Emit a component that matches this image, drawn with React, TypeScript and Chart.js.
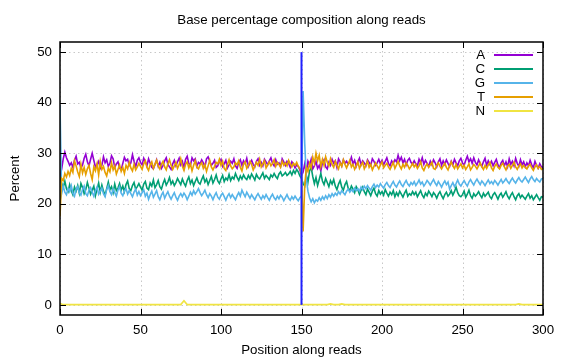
import React, { useEffect, useRef } from "react";
import { Chart, registerables } from "chart.js";

Chart.register(...registerables);

const TITLE = "Base percentage composition along reads";
const X_TITLE = "Position along reads";
const Y_TITLE = "Percent";
const X_TICKS = [0, 50, 100, 150, 200, 250, 300];
const Y_TICKS = [0, 10, 20, 30, 40, 50];
const SERIES_NAMES = ["A", "C", "G", "T", "N"];
const SERIES_COLORS = ["#9400d3", "#009e73", "#56b4e9", "#e69f00", "#f0e442"];

// values per read position 0..300
const baseA = [
  25.5, 26.8, 28.9, 30.2, 29.1, 28.4, 27.6, 28.1, 27.2, 28.6,
  29.4, 27.9, 28.2, 27.1, 27.7, 29.0, 29.8, 28.3, 27.5, 28.8,
  30.0, 28.6, 27.3, 27.8, 28.4, 27.0, 27.6, 29.3, 28.1, 28.7,
  27.4, 28.0, 29.5, 28.9, 27.2, 27.9, 28.3, 27.1, 26.7, 28.0,
  29.2, 28.5, 28.8, 27.6, 28.1, 29.7, 28.4, 27.3, 28.6, 29.1,
  28.2, 27.7, 29.0, 28.3, 27.5, 28.9, 28.0, 27.2, 26.9, 27.8,
  28.7, 27.4, 28.2, 27.0, 27.6, 28.5, 29.1, 27.8, 27.3, 26.8,
  27.9, 28.6, 27.5, 28.3, 29.0, 27.7, 28.4, 27.1, 28.8, 29.4,
  28.0, 27.6, 29.1, 28.5, 28.9, 27.4, 28.2, 27.9, 28.7, 28.1,
  27.3, 28.9, 29.3, 28.4, 27.6, 28.0, 28.6, 27.2, 27.5, 28.3,
  28.8, 27.4, 27.9, 28.6, 27.1, 27.7, 28.4, 28.0, 28.9, 27.5,
  27.0, 28.2, 28.7, 27.6, 28.5, 27.9, 29.0, 27.4, 28.1, 28.6,
  27.8, 27.3, 28.4, 28.9, 27.6, 28.2, 27.5, 28.8, 28.3, 27.7,
  28.5, 29.1, 28.0, 27.5, 28.7, 27.8, 28.1, 27.4, 28.9, 28.3,
  27.6, 28.4, 28.0, 27.2, 28.3, 27.9, 27.1, 27.7, 27.4, 26.7,
  25.5, 26.3, 27.9, 26.2, 28.4, 27.6, 28.8, 26.9, 27.5, 28.4,
  27.0, 27.6, 26.5, 28.1, 28.7, 27.3, 26.9, 28.2, 27.6, 28.8,
  28.0, 28.5, 27.2, 28.9, 28.3, 27.5, 28.7, 28.0, 28.4, 27.8,
  28.2, 29.2, 27.9, 28.6, 27.4, 28.3, 29.0, 27.7, 28.5, 28.1,
  27.5, 28.7, 28.2, 27.6, 28.9, 28.4, 27.6, 28.1, 28.8, 27.9,
  28.6, 27.7, 28.4, 29.1, 28.0, 27.5, 28.5, 28.0, 28.7, 28.3,
  29.6, 28.5, 29.2, 28.1, 28.8, 27.7, 28.6, 29.0, 28.2, 27.8,
  28.5, 27.9, 27.5, 28.8, 28.1, 29.1, 27.8, 28.6, 28.0, 27.4,
  28.4, 27.7, 28.7, 28.1, 27.3, 28.3, 28.9, 27.6, 28.5, 27.8,
  28.7, 28.0, 27.4, 28.4, 27.7, 28.8, 28.1, 27.5, 28.5, 29.0,
  28.1, 27.6, 28.6, 29.4, 28.3, 28.9, 28.0, 29.1, 28.2, 27.7,
  28.7, 27.9, 27.4, 28.3, 29.0, 27.6, 28.5, 27.8, 28.4, 27.5,
  28.2, 28.8, 27.7, 27.1, 28.1, 28.6, 27.5, 28.3, 27.3, 28.9,
  27.8, 28.4, 27.5, 29.0, 28.0, 27.4, 28.7, 27.7, 28.3, 27.3,
  28.1, 27.5, 28.6, 27.7, 27.1, 28.4, 27.6, 27.0, 27.9, 27.3,
  27.2,
];

const baseC = [
  25.5, 24.0, 23.2, 24.5, 23.0, 22.4, 23.8, 22.6, 21.8, 23.3,
  22.5, 23.6, 22.1, 24.0, 23.2, 22.0, 22.8, 24.2, 23.1, 21.9,
  22.7, 23.5, 21.6, 22.9, 24.1, 22.3, 23.7, 22.5, 21.7, 23.0,
  24.3, 22.8, 23.4, 22.2, 23.9, 22.6, 23.1, 24.0, 22.7, 23.5,
  22.4, 23.8, 24.5, 23.0, 22.6, 23.6, 24.2, 22.9, 23.4, 24.0,
  23.3, 22.7, 23.9, 24.4, 23.1, 22.8, 24.1, 23.5, 24.7, 23.2,
  23.8, 24.6, 23.4, 22.9, 24.0, 24.8, 23.7, 24.3, 25.2, 23.9,
  24.5, 23.6, 24.2, 25.0, 24.4, 23.8, 24.9, 24.1, 23.5, 24.6,
  25.3, 24.0, 24.7, 23.6, 24.4, 25.1, 24.2, 23.9, 24.8, 25.5,
  24.3, 24.9, 23.8, 24.6, 25.4, 24.1, 24.8, 25.7, 24.5, 24.0,
  24.9, 25.6, 24.4, 25.1, 24.7, 25.8, 24.6, 25.3, 24.9, 26.0,
  25.2, 24.6, 25.5, 24.9, 25.7, 25.1, 24.8, 25.6, 25.0, 25.9,
  25.3, 24.7, 25.8, 25.2, 24.9, 25.5, 26.1, 25.0, 25.6, 25.2,
  24.8, 25.7, 25.3, 26.0, 25.4, 25.0, 25.9, 26.3, 25.5, 25.8,
  26.2, 25.6, 25.9, 26.4, 25.7, 26.6, 26.0, 26.8, 26.3, 25.5,
  25.0, 24.0, 23.5, 25.6, 24.3, 26.5, 27.2, 25.4, 24.0, 25.2,
  23.6, 24.8, 26.0, 24.5, 23.8, 25.0, 24.2, 23.4, 24.6, 23.9,
  24.8, 23.5, 22.8, 23.9, 24.6, 23.3, 22.7, 23.8, 24.4, 23.1,
  22.6, 23.5, 22.9, 22.2, 23.4, 22.8, 21.9, 22.7, 23.3, 22.4,
  21.8, 22.9, 22.3, 21.6, 22.5, 23.1, 22.0, 21.5, 22.6, 21.9,
  22.4, 21.7, 22.8, 22.1, 21.5, 22.3, 21.8, 22.6, 21.4, 22.2,
  21.6, 22.5, 21.9, 21.3, 22.1, 22.7, 21.5, 22.0, 21.7, 22.4,
  21.8, 22.3, 21.4, 22.0, 22.6, 21.7, 21.2, 22.1, 21.6, 22.5,
  22.0, 21.4, 22.2, 21.8, 21.1, 21.9, 22.4, 21.6, 21.0, 21.8,
  22.3, 21.5, 21.9, 22.6, 21.7, 22.4, 23.3, 22.2, 21.6, 21.4,
  21.8, 22.5, 21.3, 21.9, 22.7, 21.6, 21.1, 22.0, 21.5, 21.9,
  22.4, 21.7, 21.2, 22.1, 21.5, 21.9, 22.3, 21.4, 21.0, 21.8,
  22.2, 21.6, 20.9, 21.7, 22.1, 21.3, 21.8, 22.4, 21.5, 21.0,
  21.7, 22.2, 21.4, 20.8, 21.6, 22.0, 21.2, 21.7, 21.3, 20.9,
  21.5, 22.0, 21.1, 21.6, 20.8, 21.3, 21.8, 21.2, 20.7, 21.4,
  21.3,
];

const baseG = [
  39.5, 22.0, 23.5, 22.3, 21.8, 23.0, 22.4, 23.6, 22.1, 21.5,
  22.9, 23.4, 22.2, 21.7, 22.8, 23.5, 22.0, 21.6, 22.7, 23.2,
  22.3, 21.5, 22.6, 23.3, 21.9, 22.5, 23.1, 22.0, 21.4, 22.8,
  23.6, 22.4, 21.8, 22.9, 22.2, 21.5, 22.7, 23.4, 22.1, 21.6,
  22.5, 23.0, 21.9, 22.6, 22.0, 21.4, 22.3, 22.9, 21.7, 22.4,
  21.6, 22.2, 22.8, 21.5, 22.1, 20.9, 21.8, 22.5, 21.3, 21.9,
  22.6, 21.4, 20.8, 21.7, 22.3, 21.1, 21.8, 22.4, 21.5, 20.9,
  21.6, 22.2, 21.3, 20.7, 21.5, 22.0, 21.4, 22.1, 21.6, 20.8,
  21.5, 22.3, 21.7, 22.6, 21.9, 22.4, 23.0, 22.2, 21.6, 22.1,
  22.7, 21.8, 21.2, 22.0, 21.5, 20.8, 21.6, 22.2, 21.3, 20.9,
  21.7, 22.1, 21.4, 20.7, 21.5, 22.0, 21.2, 21.8, 21.3, 20.8,
  21.6, 22.2, 21.5, 22.7, 22.0, 21.4, 22.3, 21.7, 21.1, 21.8,
  21.3, 20.8, 21.5, 22.0, 21.4, 20.9, 21.6, 21.1, 21.8, 21.2,
  20.7, 21.4, 21.9, 21.2, 20.8, 21.5, 21.0, 21.7, 21.3, 20.6,
  21.2, 21.8, 21.1, 20.7, 21.4, 20.9, 21.5, 21.0, 20.6, 21.2,
  21.5, 42.3, 32.0, 25.0, 22.5, 21.2, 20.4, 21.0, 20.2, 20.8,
  20.5, 21.2, 20.7, 21.4, 20.9, 21.6, 21.0, 21.8, 21.3, 22.0,
  21.5, 22.1, 21.7, 22.4, 21.9, 22.6, 22.2, 21.8, 22.5, 22.9,
  22.3, 22.8, 22.4, 23.1, 22.6, 23.0, 22.5, 23.3, 22.8, 23.5,
  23.0, 23.6, 23.1, 22.7, 23.4, 23.9, 23.2, 23.7, 23.3, 24.0,
  23.5, 23.1, 23.8, 24.2, 23.6, 23.2, 23.9, 24.4, 23.7, 23.3,
  24.0, 24.5, 23.8, 23.4, 24.1, 24.6, 23.9, 23.5, 24.2, 23.8,
  24.4, 23.6, 24.1, 24.7, 23.9, 24.3, 23.5, 24.0, 24.6, 24.2,
  23.7, 24.3, 24.8, 24.1, 23.6, 24.4, 23.9, 23.3, 24.0, 24.5,
  23.8, 24.3, 22.9, 23.6, 24.2, 23.4, 24.0, 24.7, 23.9, 23.5,
  24.1, 24.6, 24.0, 23.5, 24.3, 24.8, 24.2, 23.7, 24.4, 24.9,
  24.3, 23.8, 24.5, 24.1, 23.6, 24.2, 24.7, 24.0, 24.4, 23.9,
  24.6, 24.2, 23.7, 24.3, 24.8, 24.1, 24.5, 25.0, 24.4, 24.0,
  24.6, 25.1, 24.5, 24.1, 24.7, 25.2, 24.6, 24.3, 24.8, 25.3,
  24.7, 24.2, 24.9, 25.4, 24.8, 24.4, 25.0, 24.6, 24.3, 24.9,
  25.0,
];

const baseT = [
  17.5, 25.0, 24.6, 26.0, 25.3, 26.4, 25.6, 27.0, 26.2, 28.5,
  27.5, 26.3, 25.4, 27.8, 26.1, 27.2, 25.8, 26.9, 27.6, 26.0,
  24.8, 27.3, 26.5, 27.9, 25.7, 28.4, 26.8, 27.4, 26.2, 25.5,
  27.0, 26.3, 28.1, 26.7, 27.5, 25.9, 26.8, 27.7, 26.4, 27.2,
  26.0, 27.6, 26.9, 28.2, 27.1, 26.5, 27.8, 26.7, 27.3, 28.0,
  27.4, 26.8, 27.9, 28.5, 27.2, 26.6, 27.7, 28.3, 27.0, 27.8,
  28.6, 27.5, 26.9, 27.8, 28.4, 27.3, 26.7, 27.9, 28.7, 27.6,
  26.8, 27.5, 28.2, 27.0, 27.7, 28.9, 27.4, 26.6, 27.8, 28.3,
  27.1, 27.9, 26.5, 27.6, 28.5, 27.2, 26.9, 27.7, 28.1, 27.0,
  27.8, 26.4, 27.5, 28.6, 27.3, 26.7, 27.4, 28.2, 27.9, 28.8,
  27.6, 28.4, 27.0, 26.6, 27.8, 28.7, 27.5, 26.9, 27.3, 28.1,
  27.7, 28.5, 27.2, 26.5, 27.9, 28.3, 27.0, 27.6, 28.4, 27.8,
  26.7, 27.4, 28.2, 27.6, 28.8, 27.3, 27.9, 28.5, 27.1, 27.7,
  28.3, 27.5, 28.0, 28.7, 27.4, 28.2, 27.8, 27.2, 28.4, 27.6,
  28.1, 27.5, 28.6, 27.9, 27.3, 28.0, 27.6, 28.2, 27.4, 27.0,
  26.0, 14.5, 23.5, 27.2, 26.4, 28.0, 27.1, 29.2, 28.0, 30.0,
  28.5, 29.6, 27.4, 28.8, 27.6, 29.3, 28.2, 27.5, 28.9, 27.8,
  27.2, 28.4, 27.6, 26.9, 28.1, 27.4, 28.7, 27.8, 27.1, 27.9,
  28.6, 27.3, 27.8, 26.8, 27.5, 28.3, 27.0, 27.7, 28.2, 26.9,
  27.6, 28.4, 27.2, 27.8, 26.7, 27.4, 28.1, 27.5, 26.9, 27.7,
  28.3, 27.1, 27.6, 28.0, 27.3, 26.8, 27.5, 28.2, 27.0, 27.7,
  28.4, 27.5, 26.9, 27.8, 27.2, 28.1, 27.6, 26.9, 27.4, 28.0,
  27.3, 27.8, 27.0, 27.5, 28.3, 27.1, 26.6, 27.4, 27.9, 27.2,
  27.7, 28.2, 27.0, 26.8, 27.6, 28.1, 27.4, 26.9, 27.5, 28.0,
  27.2, 26.7, 27.6, 28.3, 27.5, 27.0, 27.8, 26.9, 27.4, 27.9,
  27.1, 27.6, 26.8, 27.3, 27.9, 26.7, 27.2, 27.8, 27.4, 26.9,
  27.5, 28.1, 27.3, 26.8, 27.6, 27.0, 27.7, 28.2, 27.1, 26.6,
  27.4, 27.9, 27.2, 26.9, 27.6, 28.0, 27.3, 26.7, 27.5, 27.8,
  27.0, 27.6, 28.2, 27.3, 26.8, 27.5, 27.9, 27.1, 27.6, 27.2,
  26.9, 27.5, 27.8, 27.1, 26.6, 27.3, 27.7, 27.0, 27.4, 26.8,
  27.0,
];

// N is essentially zero with a few small bumps
const nPositions = [0, 2, 75, 77, 79, 166, 168, 170, 173, 175, 177, 283, 285, 287, 300];
const nValues = [0.3, 0.05, 0.05, 0.8, 0.05, 0.05, 0.2, 0.05, 0.05, 0.2, 0.05, 0.05, 0.2, 0.05, 0.05];

// vertical marker at the read-pair junction
const markerPosition = 150;
const markerRange = [0, 50];

const FONT = "'Liberation Sans', Arial, sans-serif";
const FONT_SIZE = 13.3;

export default function App() {
  const ref = useRef<HTMLCanvasElement | null>(null);

  useEffect(() => {
    const canvas = ref.current;
    if (!canvas) return;
    const toPts = (arr: number[]) => arr.map((v, i) => ({ x: i, y: v }));
    const seriesData = [toPts(baseA), toPts(baseC), toPts(baseG), toPts(baseT), nPositions.map((p, i) => ({ x: p, y: nValues[i] }))];

    const datasets: any[] = SERIES_NAMES.map((name, i) => ({
      label: name,
      data: seriesData[i],
      borderColor: SERIES_COLORS[i],
      backgroundColor: SERIES_COLORS[i],
      borderWidth: 1.6,
      pointRadius: 0,
      tension: 0,
      order: 5 - i,
    }));
    datasets.push({
      label: "marker",
      data: markerRange.map((v) => ({ x: markerPosition, y: v })),
      borderColor: "#2020ff",
      borderWidth: 2,
      pointRadius: 0,
      order: 0,
    });

    const gnuplotPlugin = {
      id: "gnuplotStyle",
      beforeDatasetsDraw(chart: any) {
        const { ctx, chartArea: a, scales } = chart;
        ctx.save();
        ctx.strokeStyle = "#c8c8c8";
        ctx.lineWidth = 1;
        ctx.setLineDash([1.5, 3]);
        X_TICKS.forEach((t) => {
          const x = Math.round(scales.x.getPixelForValue(t)) + 0.5;
          ctx.beginPath();
          ctx.moveTo(x, a.top);
          ctx.lineTo(x, a.bottom);
          ctx.stroke();
        });
        Y_TICKS.forEach((t) => {
          const y = Math.round(scales.y.getPixelForValue(t)) + 0.5;
          ctx.beginPath();
          ctx.moveTo(a.left, y);
          ctx.lineTo(a.right, y);
          ctx.stroke();
        });
        ctx.restore();
      },
      afterDatasetsDraw(chart: any) {
        const { ctx, chartArea: a, scales } = chart;
        ctx.save();
        ctx.setLineDash([]);
        ctx.strokeStyle = "#000";
        ctx.lineWidth = 1.5;
        ctx.strokeRect(a.left, a.top, a.right - a.left, a.bottom - a.top);
        ctx.lineWidth = 1;
        const tl = 6;
        X_TICKS.forEach((t) => {
          const x = Math.round(scales.x.getPixelForValue(t)) + 0.5;
          ctx.beginPath();
          ctx.moveTo(x, a.bottom);
          ctx.lineTo(x, a.bottom - tl);
          ctx.moveTo(x, a.top);
          ctx.lineTo(x, a.top + tl);
          ctx.stroke();
        });
        Y_TICKS.forEach((t) => {
          const y = Math.round(scales.y.getPixelForValue(t)) + 0.5;
          ctx.beginPath();
          ctx.moveTo(a.left, y);
          ctx.lineTo(a.left + tl, y);
          ctx.moveTo(a.right, y);
          ctx.lineTo(a.right - tl, y);
          ctx.stroke();
        });
        ctx.fillStyle = "#000";
        ctx.font = `${FONT_SIZE}px ${FONT}`;
        ctx.textAlign = "center";
        ctx.textBaseline = "middle";
        X_TICKS.forEach((t) => {
          ctx.fillText(String(t), scales.x.getPixelForValue(t), a.bottom + 15);
        });
        ctx.textAlign = "right";
        Y_TICKS.forEach((t) => {
          ctx.fillText(String(t), a.left - 8, scales.y.getPixelForValue(t));
        });
        // titles
        ctx.textAlign = "center";
        ctx.fillText(TITLE, (a.left + a.right) / 2, 20);
        ctx.fillText(X_TITLE, (a.left + a.right) / 2, 350);
        ctx.save();
        ctx.translate(15, (a.top + a.bottom) / 2);
        ctx.rotate(-Math.PI / 2);
        ctx.fillText(Y_TITLE, 0, 0);
        ctx.restore();
        // legend
        SERIES_NAMES.forEach((name, i) => {
          const y = 55 + i * 14;
          ctx.textAlign = "right";
          ctx.fillStyle = "#000";
          ctx.fillText(name, 485, y);
          ctx.strokeStyle = SERIES_COLORS[i];
          ctx.lineWidth = 2;
          ctx.beginPath();
          ctx.moveTo(494, y);
          ctx.lineTo(533, y);
          ctx.stroke();
        });
        ctx.restore();
      },
    };

    const chart = new Chart(canvas, {
      type: "line",
      data: { datasets },
      options: {
        animation: false,
        responsive: false,
        layout: { padding: { top: 42, right: 33, left: 0, bottom: 0 } },
        plugins: { legend: { display: false }, title: { display: false }, tooltip: { enabled: false } },
        scales: {
          x: {
            type: "linear",
            min: 0,
            max: 300,
            ticks: { display: false },
            grid: { display: false },
            border: { display: false },
            afterFit: (s: any) => { s.height = 45; },
          },
          y: {
            type: "linear",
            min: -2,
            max: 52,
            ticks: { display: false },
            grid: { display: false },
            border: { display: false },
            afterFit: (s: any) => { s.width = 60; },
          },
        },
      } as any,
      plugins: [gnuplotPlugin],
    });
    return () => chart.destroy();
  }, []);

  return (
    <div style={{ position: "fixed", left: 0, top: 0, width: 576, height: 360, background: "#fff" }}>
      <canvas ref={ref} width={576} height={360} />
    </div>
  );
}
